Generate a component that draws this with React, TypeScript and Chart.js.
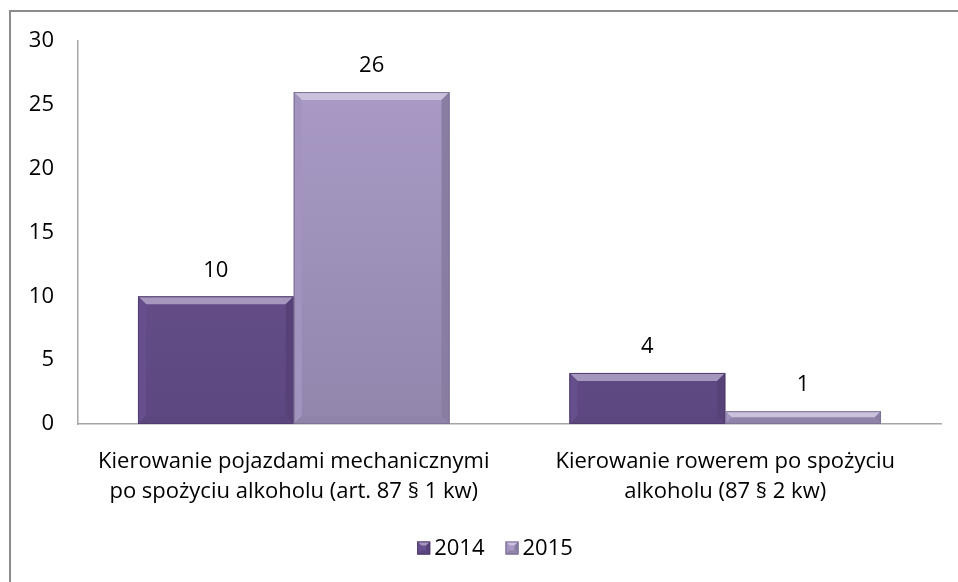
import React, { useEffect, useRef } from "react";
import { Chart, registerables } from "chart.js";

Chart.register(...registerables);

const categories: string[][] = [
  ["Kierowanie pojazdami mechanicznymi", "po spożyciu alkoholu (art. 87 § 1 kw)"],
  ["Kierowanie rowerem po spożyciu", "alkoholu (87 § 2 kw)"],
];
const seriesNames = ["2014", "2015"];
const values2014 = [10, 4];
const values2015 = [26, 1];
const yTicks = [0, 5, 10, 15, 20, 25, 30];

const FONT = "'Open Sans', Lato, sans-serif";
const FSIZE = 22;

function shade(hex: string, amt: number): string {
  const n = parseInt(hex.slice(1), 16);
  const r = (n >> 16) & 255, g = (n >> 8) & 255, b = n & 255;
  const f = (c: number) => Math.max(0, Math.min(255, Math.round(amt >= 0 ? c + (255 - c) * amt : c * (1 + amt))));
  return `rgb(${f(r)},${f(g)},${f(b)})`;
}

const baseColors = ["#6a5192", "#a798c5"];

function drawBevelRect(ctx: any, x0: number, y0: number, x1: number, y1: number, base: string, bev: number, fillCenter: boolean) {
  const h = y1 - y0;
  const b = Math.min(bev, h / 2);
  ctx.save();
  if (fillCenter) {
    ctx.fillStyle = base;
    ctx.fillRect(x0, y0, x1 - x0, h);
  }
  ctx.fillStyle = shade(base, 0.4);
  ctx.beginPath();
  ctx.moveTo(x0, y0); ctx.lineTo(x1, y0); ctx.lineTo(x1 - b, y0 + b); ctx.lineTo(x0 + b, y0 + b); ctx.closePath(); ctx.fill();
  ctx.fillStyle = shade(base, -0.03);
  ctx.beginPath();
  ctx.moveTo(x0, y0); ctx.lineTo(x0 + b, y0 + b); ctx.lineTo(x0 + b, y1 - b); ctx.lineTo(x0, y1); ctx.closePath(); ctx.fill();
  ctx.fillStyle = shade(base, -0.18);
  ctx.beginPath();
  ctx.moveTo(x1, y0); ctx.lineTo(x1 - b, y0 + b); ctx.lineTo(x1 - b, y1 - b); ctx.lineTo(x1, y1); ctx.closePath(); ctx.fill();
  ctx.fillStyle = shade(base, -0.14);
  ctx.beginPath();
  ctx.moveTo(x0, y1); ctx.lineTo(x0 + b, y1 - b); ctx.lineTo(x1 - b, y1 - b); ctx.lineTo(x1, y1); ctx.closePath(); ctx.fill();
  ctx.strokeStyle = shade(base, -0.25);
  ctx.lineWidth = 1;
  ctx.strokeRect(x0 + 0.5, y0 + 0.5, x1 - x0 - 1, h - 1);
  ctx.restore();
}

const bevelPlugin = {
  id: "bevel",
  afterDatasetsDraw(chart: any) {
    const ctx = chart.ctx;
    chart.data.datasets.forEach((ds: any, di: number) => {
      const meta = chart.getDatasetMeta(di);
      meta.data.forEach((bar: any) => {
        drawBevelRect(ctx, bar.x - bar.width / 2, bar.y, bar.x + bar.width / 2, bar.base, baseColors[di], 8, false);
      });
    });
  },
};

const labelPlugin = {
  id: "valueLabels",
  afterDatasetsDraw(chart: any) {
    const ctx = chart.ctx;
    ctx.save();
    ctx.font = `${FSIZE}px ${FONT}`;
    ctx.fillStyle = "#000";
    ctx.textAlign = "center";
    ctx.textBaseline = "middle";
    chart.data.datasets.forEach((ds: any, di: number) => {
      const meta = chart.getDatasetMeta(di);
      meta.data.forEach((bar: any, i: number) => {
        ctx.fillText(String(ds.data[i]), bar.x, bar.y - 26);
      });
    });
    ctx.restore();
  },
};

const legendPlugin = {
  id: "customLegend",
  afterDraw(chart: any) {
    const ctx = chart.ctx;
    ctx.save();
    ctx.font = `${FSIZE}px ${FONT}`;
    ctx.textBaseline = "middle";
    ctx.textAlign = "left";
    const box = 13, gap = 4, spacing = 21;
    const widths = seriesNames.map((s) => ctx.measureText(s).width);
    const total = widths.reduce((a, w) => a + box + gap + w, 0) + spacing * (seriesNames.length - 1);
    let x = chart.width / 2 + 16 - total / 2;
    const cy = 548;
    seriesNames.forEach((s, i) => {
      drawBevelRect(ctx, x, cy - box / 2, x + box, cy + box / 2, baseColors[i], 4, true);
      ctx.fillStyle = "#000";
      ctx.fillText(s, x + box + gap, cy + 1);
      x += box + gap + widths[i] + spacing;
    });
    ctx.restore();
  },
};

function makeGradient(chart: any, base: string) {
  const area = chart.chartArea;
  if (!area) return base;
  const g = chart.ctx.createLinearGradient(0, area.top, 0, area.bottom);
  g.addColorStop(0, shade(base, 0.05));
  g.addColorStop(1, shade(base, -0.12));
  return g;
}

export default function App() {
  const ref = useRef<HTMLCanvasElement | null>(null);
  useEffect(() => {
    if (!ref.current) return;
    const chart = new Chart(ref.current, {
      type: "bar",
      data: {
        labels: categories,
        datasets: [
          {
            label: seriesNames[0],
            data: values2014,
            backgroundColor: (c: any) => makeGradient(c.chart, baseColors[0]),
            borderWidth: 0,
          },
          {
            label: seriesNames[1],
            data: values2015,
            backgroundColor: (c: any) => makeGradient(c.chart, baseColors[1]),
            borderWidth: 0,
          },
        ],
      },
      options: {
        animation: false,
        responsive: false,
        layout: { padding: { top: 41, right: 17, bottom: 54, left: 0 } },
        datasets: { bar: { categoryPercentage: 0.722, barPercentage: 1 } } as any,
        scales: {
          x: {
            grid: { display: false, drawTicks: false },
            border: { color: "#a6a6a6", width: 1.5 },
            ticks: {
              color: "#000",
              font: { family: FONT, size: FSIZE, lineHeight: "30px" },
              padding: 23,
              maxRotation: 0,
              autoSkip: false,
            },
            afterFit: (s: any) => { s.height = 104; },
          },
          y: {
            min: 0,
            max: 30,
            afterBuildTicks: (s: any) => { s.ticks = yTicks.map((v) => ({ value: v })); },
            grid: { display: false, drawTicks: false },
            border: { color: "#a6a6a6", width: 1.5 },
            ticks: {
              color: "#000",
              font: { family: FONT, size: FSIZE },
              padding: 24,
            },
            afterFit: (s: any) => { s.width = 78; },
          },
        },
        plugins: {
          legend: { display: false },
          tooltip: { enabled: false },
        },
      },
      plugins: [bevelPlugin, labelPlugin, legendPlugin],
    } as any);
    return () => chart.destroy();
  }, []);
  return (
    <div style={{ position: "fixed", left: 0, top: 0, width: 958, height: 582, background: "#fff", overflow: "hidden" }}>
      <div style={{ position: "absolute", left: 9, top: 10, width: 1000, height: 700, border: "2px solid #8c8c8c", boxSizing: "border-box" }} />
      <canvas ref={ref} width={958} height={582} style={{ position: "absolute", left: 0, top: 0 }} />
    </div>
  );
}
